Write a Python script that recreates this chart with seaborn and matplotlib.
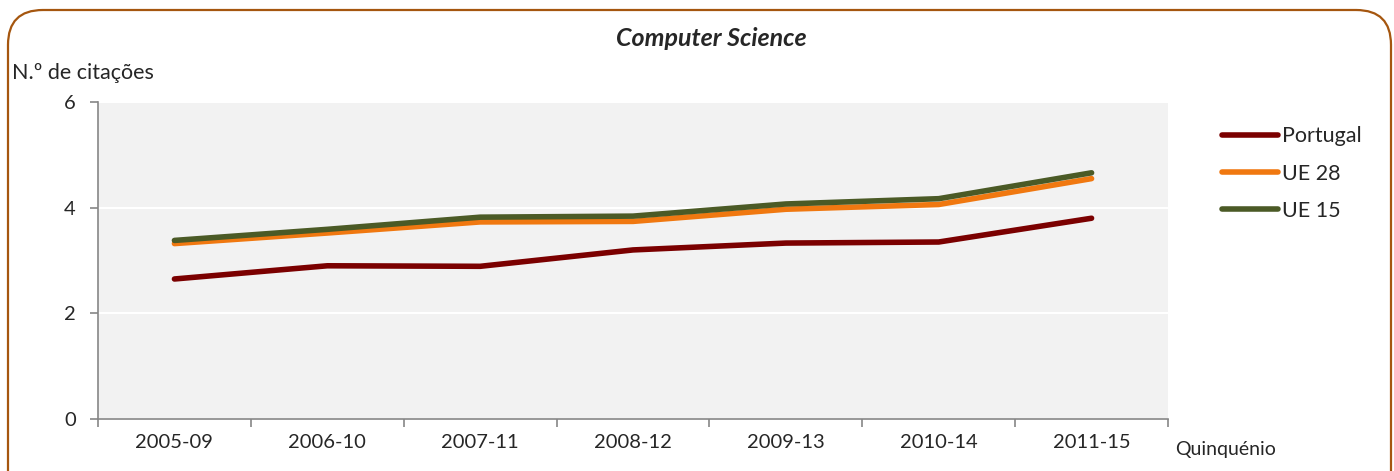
import matplotlib
matplotlib.use("Agg")
import pandas as pd
import seaborn as sns
import matplotlib.pyplot as plt
from matplotlib.patches import FancyBboxPatch
from matplotlib.ticker import FixedLocator

# Data
periods = ["2005-09", "2006-10", "2007-11", "2008-12", "2009-13", "2010-14", "2011-15"]
portugal = [2.65, 2.90, 2.89, 3.20, 3.33, 3.35, 3.80]
ue28 = [3.32, 3.52, 3.73, 3.74, 3.97, 4.06, 4.55]
ue15 = [3.38, 3.59, 3.82, 3.84, 4.07, 4.17, 4.66]
series_names = ["Portugal", "UE 28", "UE 15"]
colors = ["#7B0000", "#F07810", "#4B5A26"]

df = pd.DataFrame({
    "periodo": periods * 3,
    "x": list(range(len(periods))) * 3,
    "valor": portugal + ue28 + ue15,
    "serie": [s for s in series_names for _ in periods],
})

sns.set_theme(style="white")
plt.rcParams["font.family"] = ["Lato", "DejaVu Sans"]

fig = plt.figure(figsize=(13.94, 4.71), dpi=100)
ax = fig.add_axes([98 / 1394, 52 / 471, 1070 / 1394, 317 / 471])
ax.set_facecolor("#F2F2F2")

sns.lineplot(data=df, x="x", y="valor", hue="serie", hue_order=series_names,
             palette=colors, linewidth=4, ax=ax, legend=False,
             solid_capstyle="round", solid_joinstyle="round")

ax.set_xlim(-0.5, len(periods) - 0.5)
ax.set_ylim(0, 6)
ax.set_yticks([0, 2, 4, 6])
ax.yaxis.grid(True, color="white", linewidth=1.5)
ax.set_axisbelow(True)

# category labels at centres, tick marks between categories (Excel style)
ax.set_xticks(range(len(periods)))
ax.set_xticklabels(periods, fontsize=14.5)
ax.xaxis.set_minor_locator(FixedLocator([i - 0.5 for i in range(len(periods) + 1)]))
ax.tick_params(axis="x", which="major", length=0, pad=11)
ax.tick_params(axis="x", which="minor", length=6, color="#868686", width=1.2, bottom=True)
ax.tick_params(axis="y", length=6, color="#868686", width=1.2, labelsize=14.5, pad=10, left=True)
ax.set_xlabel("")
ax.set_ylabel("")

for side in ["top", "right"]:
    ax.spines[side].set_visible(False)
for side in ["left", "bottom"]:
    ax.spines[side].set_color("#868686")
    ax.spines[side].set_linewidth(1.2)

handles = [plt.Line2D([], [], color=c, linewidth=4, solid_capstyle="round") for c in colors]
fig.legend(handles, series_names, loc="upper left", bbox_to_anchor=(1203 / 1394, 1 - 107 / 471),
           frameon=False, fontsize=15.5, handlelength=2.6, handletextpad=0.15, labelspacing=0.8)

fig.text(711 / 1394, 1 - 38 / 471, "Computer Science", ha="center", va="center",
         fontsize=18, fontweight="bold", fontstyle="italic")
fig.text(12 / 1394, 1 - 73 / 471, "N.º de citações", ha="left", va="center", fontsize=15.5)
fig.text(1175 / 1394, 1 - 449 / 471, "Quinquénio", ha="left", va="center", fontsize=14)

border = FancyBboxPatch((8 / 1394, -0.1), 1383 / 1394, 1.1 - 10 / 471,
                        boxstyle="round,pad=0,rounding_size=0.025",
                        transform=fig.transFigure, fill=False,
                        edgecolor="#A5560F", linewidth=1.6, mutation_aspect=1394 / 471)
fig.patches.append(border)

fig.savefig("out.png", dpi=100)
